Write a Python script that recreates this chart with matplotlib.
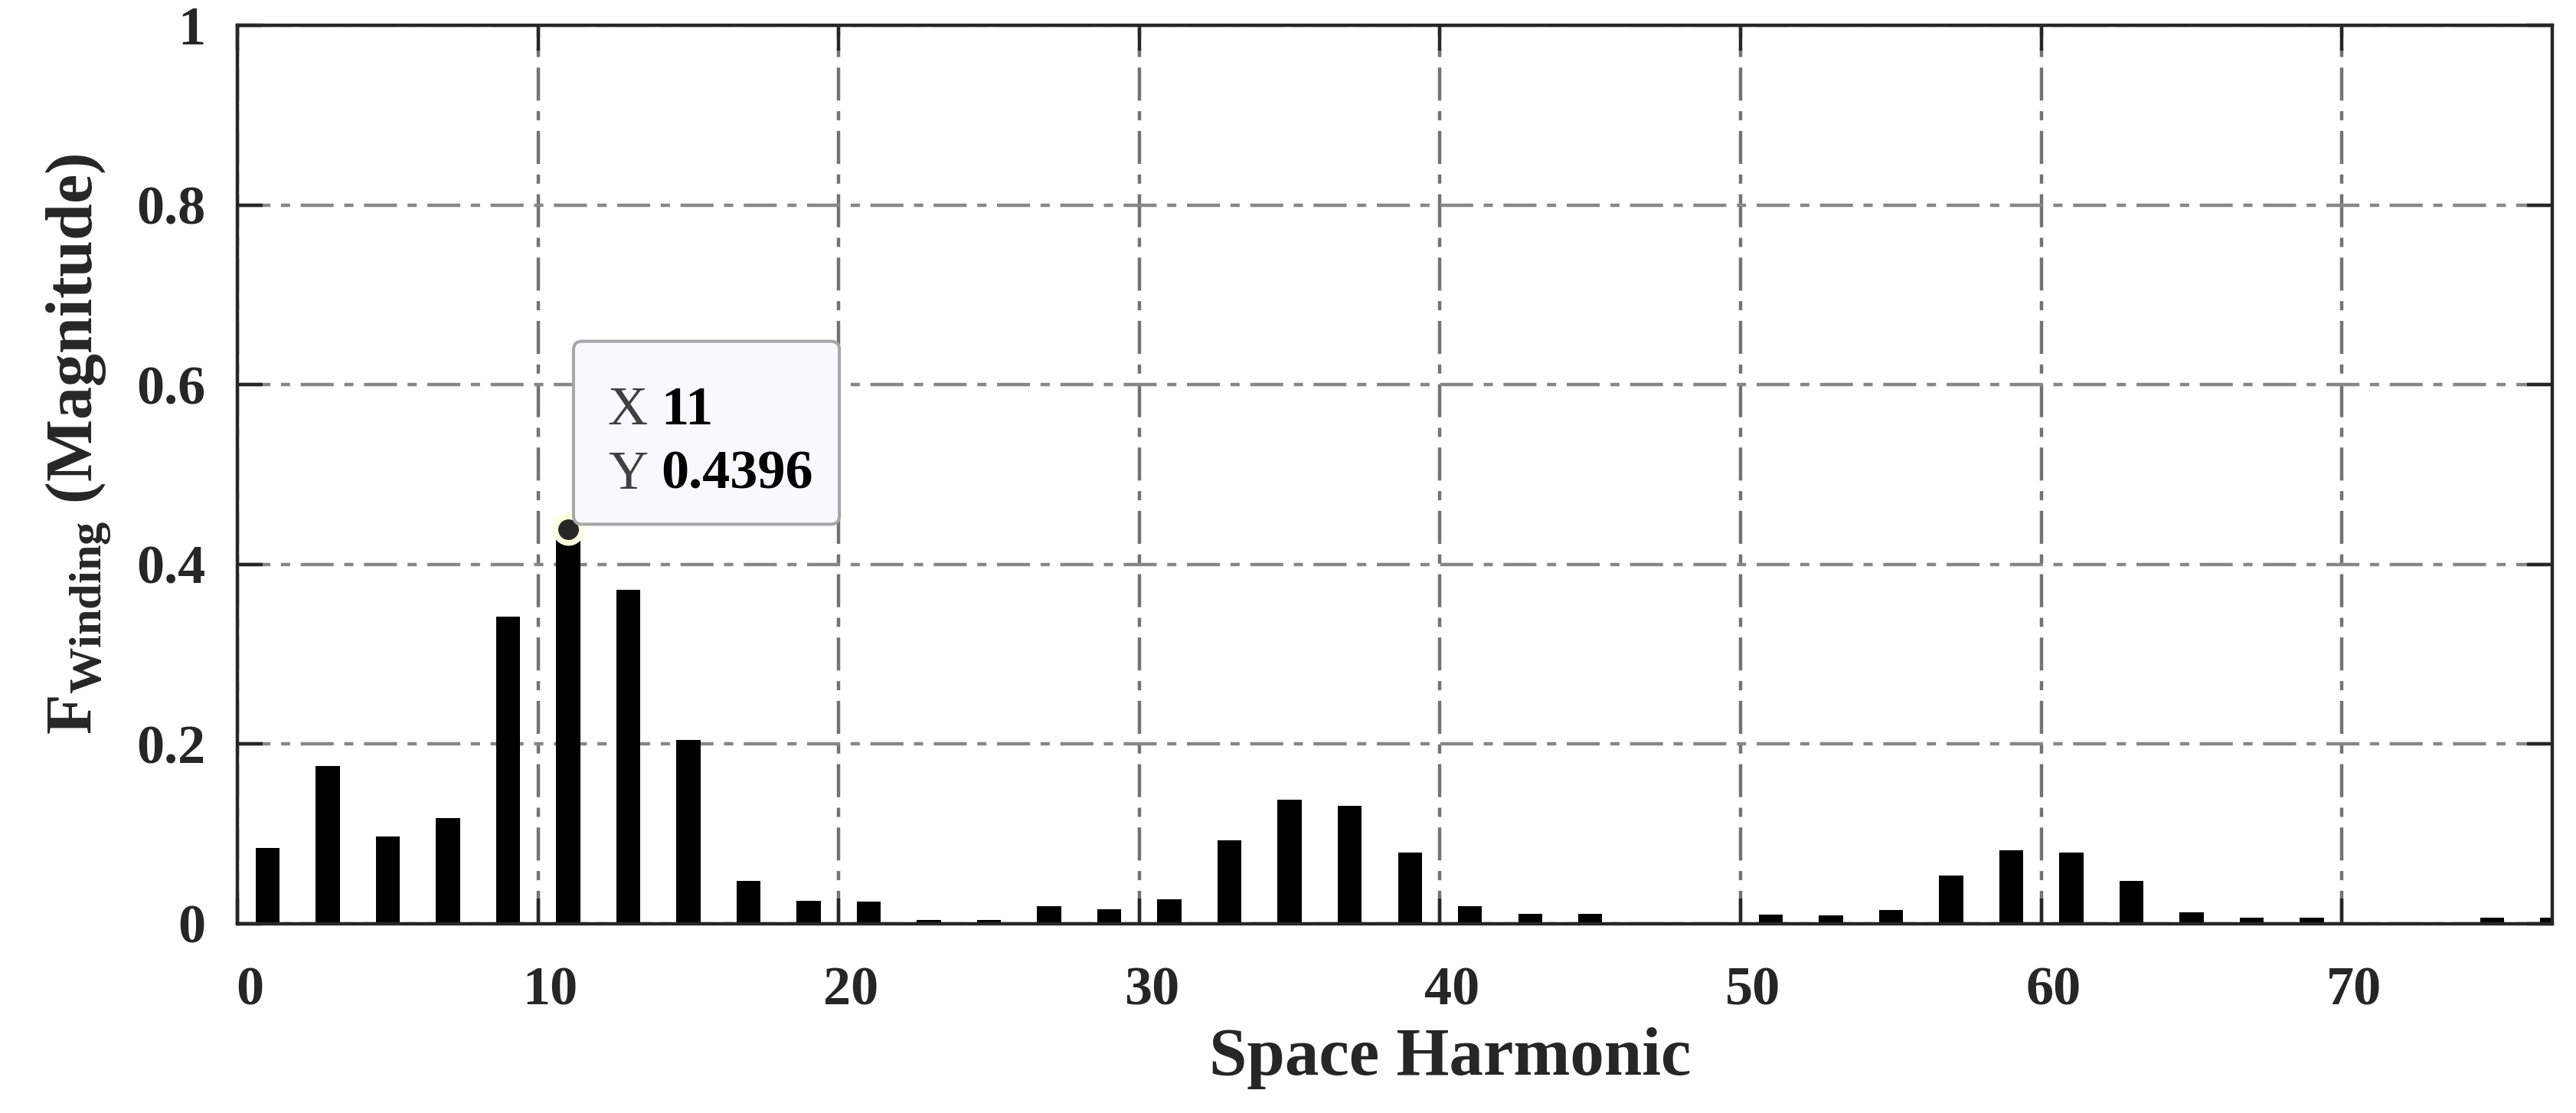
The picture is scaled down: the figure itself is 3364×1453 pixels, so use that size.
import matplotlib
matplotlib.use("Agg")
from matplotlib import pyplot as plt
from matplotlib import transforms as mtransforms
from matplotlib.patches import FancyBboxPatch

# odd space harmonics and their winding factor magnitudes
harmonics = list(range(1, 78, 2))
magnitudes = [0.084, 0.176, 0.097, 0.118, 0.342, 0.4396, 0.372, 0.205, 0.048, 0.026,
              0.025, 0.004, 0.004, 0.020, 0.0165, 0.027, 0.093, 0.138, 0.131, 0.079,
              0.020, 0.0115, 0.0115, 0.002, 0.002, 0.0105, 0.009, 0.015, 0.054, 0.0815,
              0.079, 0.048, 0.0125, 0.007, 0.007, 0.001, 0.001, 0.007, 0.0065]
xticks = [0, 10, 20, 30, 40, 50, 60, 70]
yticks = [0, 0.2, 0.4, 0.6, 0.8, 1.0]
ytick_labels = ["0", "0.2", "0.4", "0.6", "0.8", "1"]
tip_x = 11
tip_y = 0.4396

plt.rcParams['font.family'] = ['Liberation Serif', 'DejaVu Serif']
plt.rcParams['font.weight'] = 'bold'
plt.rcParams['axes.labelweight'] = 'bold'
plt.rcParams['mathtext.fontset'] = 'custom'
plt.rcParams['mathtext.rm'] = 'Liberation Serif:bold'
plt.rcParams['mathtext.bf'] = 'Liberation Serif:bold'
plt.rcParams['mathtext.it'] = 'Liberation Serif:bold'

dark = '#262626'
dpi = 200
fig = plt.figure(figsize=(3364 / dpi, 1453 / dpi), dpi=dpi)
ax = fig.add_axes([0.0922, 0.170, 0.8986, 0.807])

ax.bar(harmonics, magnitudes, width=0.8, color='black', zorder=2)
ax.set_xlim(0, 77)
ax.set_ylim(0, 1)
ax.set_axisbelow(True)

dash = (0, (9.7, 3.1, 2.7, 3.1))
ax.grid(axis='x', color='#737373', linestyle=dash, linewidth=1.6)
ax.grid(axis='y', color='#878787', linestyle=dash, linewidth=1.6)

for sp in ax.spines.values():
    sp.set_color(dark)
    sp.set_linewidth(1.6)

ax.set_xticks(xticks)
ax.set_yticks(yticks)
ax.set_yticklabels(ytick_labels)
ax.tick_params(direction='in', length=12, width=1.6, color=dark, labelcolor=dark,
               labelsize=26, top=True, right=True)
ax.tick_params(axis='y', pad=15)
ax.tick_params(axis='x', pad=20)
# matlab export put the x labels a little to the right of the ticks
shift = mtransforms.ScaledTranslation(16 / dpi, 0, fig.dpi_scale_trans)
for lab in ax.get_xticklabels():
    lab.set_transform(lab.get_transform() + shift)

ax.set_xlabel('Space Harmonic', fontsize=32, fontweight='bold', color=dark)
ax.xaxis.set_label_coords(0.5238, -0.115)
ax.xaxis.label.set_va('top')
ax.set_ylabel(r'$\mathbf{F}_{\mathbf{Winding}}$ (Magnitude)', fontsize=31,
              fontweight='bold', color=dark)
ax.yaxis.set_label_coords(-0.054, 0.534)

# data tip
ax.plot([tip_x], [tip_y], 'o', markersize=12.4, markerfacecolor=dark,
        markeredgecolor='#FFFFE0', markeredgewidth=2.7, zorder=5, clip_on=False)

pt = mtransforms.Affine2D().scale(1 / 72) + fig.dpi_scale_trans
anchor = pt + mtransforms.ScaledTranslation(tip_x, tip_y, ax.transData)
box = FancyBboxPatch((2.5, 2.2), 125, 86, boxstyle='round,pad=0,rounding_size=4',
                     facecolor='#F8F8FF', edgecolor='#A6A6A6', linewidth=1.45,
                     transform=anchor, zorder=6, clip_on=False)
ax.add_patch(box)
ax.text(37.4, 49, 'X', transform=anchor, ha='right', va='baseline', fontsize=26,
        fontweight='normal', color='#404040', zorder=7)
ax.text(43.6, 49, '11', transform=anchor, ha='left', va='baseline', fontsize=26,
        fontweight='bold', color='black', zorder=7)
ax.text(37.4, 19, 'Y', transform=anchor, ha='right', va='baseline', fontsize=26,
        fontweight='normal', color='#404040', zorder=7)
ax.text(43.6, 19, '0.4396', transform=anchor, ha='left', va='baseline', fontsize=26,
        fontweight='bold', color='black', zorder=7)

fig.savefig('out.png', dpi=dpi)
